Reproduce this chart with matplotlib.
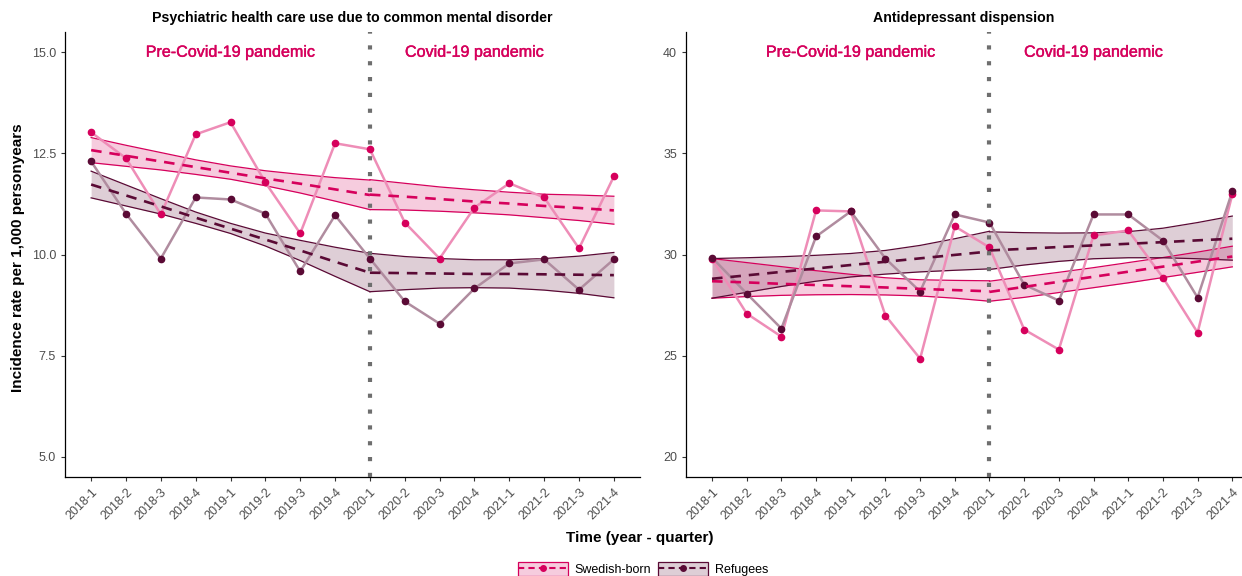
import numpy as np
import matplotlib.pyplot as plt
import matplotlib.patheffects as pe
from matplotlib.lines import Line2D
from matplotlib.patches import Patch
from matplotlib.legend_handler import HandlerTuple

plt.rcParams['font.family'] = ['Liberation Sans', 'DejaVu Sans']

quarters = ["2018-1", "2018-2", "2018-3", "2018-4", "2019-1", "2019-2", "2019-3", "2019-4",
            "2020-1", "2020-2", "2020-3", "2020-4", "2021-1", "2021-2", "2021-3", "2021-4"]
pre_idx = np.arange(0, 9)
post_idx = np.arange(8, 16)

# --- panel 1: psychiatric health care use ---
p1_swe_obs = [13.02, 12.38, 10.99, 12.97, 13.27, 11.78, 10.52, 12.75,
              12.60, 10.79, 9.90, 11.16, 11.76, 11.41, 10.15, 11.93]
p1_ref_obs = [12.30, 11.01, 9.90, 11.41, 11.36, 11.01, 9.58, 10.97,
              9.90, 8.84, 8.29, 9.16, 9.78, 9.88, 9.13, 9.88]
p1_swe_pre_fit = [12.58, 12.44, 12.30, 12.16, 12.02, 11.88, 11.75, 11.61, 11.47]
p1_swe_pre_hi = [12.89, 12.70, 12.52, 12.34, 12.19, 12.07, 11.98, 11.90, 11.84]
p1_swe_pre_lo = [12.27, 12.18, 12.09, 11.98, 11.86, 11.70, 11.52, 11.32, 11.11]
p1_swe_post_fit = [11.48, 11.43, 11.37, 11.31, 11.26, 11.20, 11.15, 11.09]
p1_swe_post_hi = [11.85, 11.76, 11.67, 11.60, 11.54, 11.49, 11.47, 11.44]
p1_swe_post_lo = [11.11, 11.10, 11.07, 11.03, 10.98, 10.91, 10.84, 10.75]
p1_ref_pre_fit = [11.73, 11.46, 11.19, 10.91, 10.64, 10.37, 10.10, 9.82, 9.55]
p1_ref_pre_hi = [12.06, 11.72, 11.38, 11.05, 10.77, 10.53, 10.35, 10.18, 10.03]
p1_ref_pre_lo = [11.40, 11.20, 11.00, 10.77, 10.52, 10.21, 9.85, 9.46, 9.08]
p1_ref_post_fit = [9.55, 9.54, 9.53, 9.52, 9.52, 9.51, 9.50, 9.49]
p1_ref_post_hi = [10.03, 9.95, 9.90, 9.87, 9.87, 9.90, 9.96, 10.05]
p1_ref_post_lo = [9.08, 9.13, 9.17, 9.18, 9.17, 9.12, 9.04, 8.93]

# --- panel 2: antidepressant dispension ---
p2_swe_obs = [29.80, 27.08, 25.94, 32.18, 32.13, 26.98, 24.85, 31.39,
              30.35, 26.29, 25.30, 30.94, 31.19, 28.86, 26.14, 32.97]
p2_ref_obs = [29.85, 28.07, 26.34, 30.89, 32.13, 29.80, 28.17, 31.98,
              31.58, 28.51, 27.72, 31.98, 31.98, 30.69, 27.87, 33.12]
p2_swe_pre_fit = [28.68, 28.62, 28.55, 28.49, 28.43, 28.37, 28.30, 28.24, 28.18]
p2_swe_pre_hi = [29.80, 29.60, 29.40, 29.20, 29.02, 28.85, 28.75, 28.72, 28.70]
p2_swe_pre_lo = [27.84, 27.92, 27.98, 28.01, 28.02, 28.00, 27.95, 27.84, 27.69]
p2_swe_post_fit = [28.15, 28.40, 28.65, 28.90, 29.15, 29.40, 29.65, 29.90]
p2_swe_post_hi = [28.68, 28.90, 29.12, 29.35, 29.60, 29.85, 30.12, 30.41]
p2_swe_post_lo = [27.69, 27.88, 28.12, 28.36, 28.60, 28.86, 29.12, 29.39]
p2_ref_pre_fit = [28.80, 28.97, 29.14, 29.31, 29.48, 29.64, 29.81, 29.98, 30.15]
p2_ref_pre_hi = [29.80, 29.84, 29.89, 29.96, 30.05, 30.20, 30.45, 30.78, 31.15]
p2_ref_pre_lo = [27.84, 28.13, 28.42, 28.68, 28.89, 29.03, 29.14, 29.22, 29.29]
p2_ref_post_fit = [30.20, 30.28, 30.37, 30.45, 30.53, 30.61, 30.70, 30.78]
p2_ref_post_hi = [31.12, 31.08, 31.06, 31.07, 31.13, 31.30, 31.58, 31.90]
p2_ref_post_lo = [29.26, 29.48, 29.66, 29.79, 29.84, 29.84, 29.79, 29.72]

swe_col = "#D6005C"
swe_light = "#EE8DB7"
ref_col = "#5A0A35"
ref_light = "#B08C9F"
txt_grey = "#4D4D4D"


def draw_panel(ax, swe_obs, ref_obs, swe_fits, ref_fits, title, ylim, yticks, ytl, ann_y):
    x = np.arange(len(quarters))
    for col, fits in [(swe_col, swe_fits), (ref_col, ref_fits)]:
        for idx, fit, hi, lo in fits:
            ax.fill_between(idx, lo, hi, color=col, alpha=0.2, lw=0, zorder=1)
            ax.plot(idx, hi, color=col, lw=0.9, zorder=2)
            ax.plot(idx, lo, color=col, lw=0.9, zorder=2)
    ax.plot(x, swe_obs, color=swe_light, lw=1.8, zorder=3)
    ax.plot(x, swe_obs, 'o', color=swe_col, ms=4.5, zorder=4)
    ax.plot(x, ref_obs, color=ref_light, lw=1.8, zorder=3)
    ax.plot(x, ref_obs, 'o', color=ref_col, ms=4.5, zorder=4)
    for col, fits in [(swe_col, swe_fits), (ref_col, ref_fits)]:
        for idx, fit, hi, lo in fits:
            ax.plot(idx, fit, color=col, lw=1.9, dashes=(4, 3), zorder=5)
    ax.axvline(8, color="#6E6E6E", lw=3, linestyle=(0, (1, 2.8)),
               dash_capstyle="butt", zorder=6)
    for xpos, lab in [(4, "Pre-Covid-19 pandemic"), (11, "Covid-19 pandemic")]:
        ax.text(xpos, ann_y, lab, color=swe_col, fontsize=11.6, ha="center", va="center",
                path_effects=[pe.withStroke(linewidth=0.3, foreground=swe_col)])
    ax.set_title(title, fontsize=10.2, fontweight="bold", pad=7)
    ax.set_ylim(*ylim)
    ax.set_yticks(yticks)
    ax.set_yticklabels(ytl, fontsize=9, color=txt_grey)
    ax.set_xticks(x)
    ax.set_xticklabels(quarters, rotation=45, ha="right", rotation_mode="anchor",
                       fontsize=9, color=txt_grey)
    ax.tick_params(axis="both", length=3, color="#333333")
    for s in ["top", "right"]:
        ax.spines[s].set_visible(False)
    for s in ["left", "bottom"]:
        ax.spines[s].set_linewidth(0.9)


fig = plt.figure(figsize=(12.42, 5.76), dpi=100)
ax1 = fig.add_axes([65 / 1242, 99 / 576, 575 / 1242, 445 / 576])
ax2 = fig.add_axes([686 / 1242, 99 / 576, 556 / 1242, 445 / 576])
ax1.set_xlim(-0.75, 15.75)
ax2.set_xlim(-0.75, 15.28)

draw_panel(ax1, p1_swe_obs, p1_ref_obs,
           [(pre_idx, p1_swe_pre_fit, p1_swe_pre_hi, p1_swe_pre_lo),
            (post_idx, p1_swe_post_fit, p1_swe_post_hi, p1_swe_post_lo)],
           [(pre_idx, p1_ref_pre_fit, p1_ref_pre_hi, p1_ref_pre_lo),
            (post_idx, p1_ref_post_fit, p1_ref_post_hi, p1_ref_post_lo)],
           "Psychiatric health care use due to common mental disorder",
           (4.5, 15.5), [5, 7.5, 10, 12.5, 15], ["5.0", "7.5", "10.0", "12.5", "15.0"], 15.0)
draw_panel(ax2, p2_swe_obs, p2_ref_obs,
           [(pre_idx, p2_swe_pre_fit, p2_swe_pre_hi, p2_swe_pre_lo),
            (post_idx, p2_swe_post_fit, p2_swe_post_hi, p2_swe_post_lo)],
           [(pre_idx, p2_ref_pre_fit, p2_ref_pre_hi, p2_ref_pre_lo),
            (post_idx, p2_ref_post_fit, p2_ref_post_hi, p2_ref_post_lo)],
           "Antidepressant dispension",
           (19, 41), [20, 25, 30, 35, 40], ["20", "25", "30", "35", "40"], 40.0)

fig.text(18 / 1242, 0.5 + 30 / 576, "Incidence rate per 1,000 personyears", rotation=90,
         ha="center", va="center", fontsize=11, fontweight="bold")
fig.text(640 / 1242, 1 - 538 / 576, "Time (year - quarter)", ha="center", va="center",
         fontsize=11, fontweight="bold")

handles = [
    (Patch(facecolor=swe_col, alpha=0.2, edgecolor="none"),
     Patch(facecolor="none", edgecolor=swe_col, lw=0.9),
     Line2D([], [], color=swe_col, lw=1.5, dashes=(3, 2), marker="o", ms=4)),
    (Patch(facecolor=ref_col, alpha=0.2, edgecolor="none"),
     Patch(facecolor="none", edgecolor=ref_col, lw=0.9),
     Line2D([], [], color=ref_col, lw=1.5, dashes=(3, 2), marker="o", ms=4)),
]
fig.legend(handles, ["Swedish-born", "Refugees"], loc="center",
           bbox_to_anchor=(643 / 1242, 7 / 576), ncol=2, frameon=False, fontsize=9,
           handler_map={tuple: HandlerTuple(ndivide=1, pad=0)},
           handlelength=4.0, handleheight=1.3, columnspacing=0.6, handletextpad=0.5,
           borderpad=0)

fig.savefig("out.png", dpi=100)
